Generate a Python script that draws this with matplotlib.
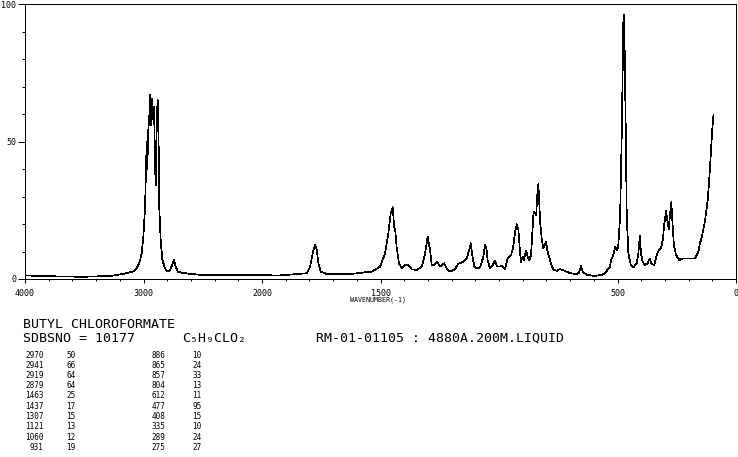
import numpy as np
import matplotlib
matplotlib.use('Agg')
import matplotlib.pyplot as plt
from matplotlib.ticker import FixedLocator, NullFormatter

# Raman spectrum of butyl chloroformate
wavenumber = [4000, 3789, 3511, 3283, 3173, 3089, 3057, 3030, 3015, 3002,
              2987, 2979, 2973, 2968, 2960, 2951, 2943, 2937, 2928, 2920,
              2911, 2903, 2897, 2889, 2880, 2872, 2867, 2855, 2841, 2819,
              2796, 2776, 2757, 2743, 2728, 2711, 2678, 2650, 2523, 2312,
              2101, 1924, 1811, 1797, 1786, 1776, 1769, 1762, 1752, 1727,
              1629, 1537, 1502, 1481, 1467, 1457, 1448, 1443, 1437, 1432,
              1422, 1410, 1396, 1383, 1368, 1347, 1326, 1312, 1301, 1291,
              1284, 1273, 1260, 1249, 1232, 1221, 1207, 1186, 1172, 1151,
              1136, 1126, 1119, 1113, 1104, 1094, 1080, 1066, 1059, 1053,
              1048, 1038, 1026, 1017, 1008, 996, 986, 975, 963, 949,
              940, 932, 925, 918, 911, 907, 900, 896, 886, 879,
              872, 865, 858, 854, 848, 843, 838, 834, 830, 826,
              820, 813, 806, 802, 796, 789, 781, 771, 756, 743,
              721, 700, 672, 662, 654, 647, 630, 595, 567, 553,
              546, 539, 532, 527, 518, 510, 503, 497, 489, 482,
              478, 475, 473, 470, 465, 461, 454, 444, 433, 419,
              412, 406, 401, 394, 384, 373, 364, 356, 345, 335,
              325, 316, 309, 302, 295, 290, 284, 278, 273, 267,
              262, 253, 239, 222, 201, 173, 159, 152, 145, 131,
              119, 110, 103, 98, 95]
intensity = [1.3, 1.0, 0.8, 1.1, 1.8, 2.7, 3.9, 6.5, 9.5, 15,
             26, 40, 50, 40, 54, 59, 67, 56, 65.7, 58,
             62.7, 42, 34, 58, 65, 48, 26, 14, 7, 3.9,
             2.7, 3.3, 5.1, 6.9, 4.5, 2.7, 2.3, 2.1, 1.5, 1.4,
             1.4, 1.3, 2.1, 4.5, 9.3, 12.6, 10.5, 5.7, 2.7, 1.8,
             1.8, 2.7, 4.5, 9.3, 16.6, 23.9, 26.1, 19.4, 17, 11.7,
             5.7, 3.9, 5.3, 5.1, 3.5, 3.3, 4.5, 9.3, 15.4, 10.5,
             5.1, 5.1, 6.3, 4.5, 5.7, 3.9, 2.7, 3.5, 5.5, 6.3,
             7.5, 10.5, 13, 8.7, 4.5, 3.9, 4.2, 8.1, 12.4, 11.2,
             6.9, 3.9, 5.1, 6.7, 4.5, 4.5, 4.8, 3.7, 7.5, 8.7,
             11.7, 17.2, 19.9, 17.8, 9.3, 6.3, 8.1, 6.9, 10.3, 8.1,
             6.9, 8.7, 19, 24.5, 23.9, 23.3, 31.2, 34.5, 27.5, 20.3,
             14.8, 11.2, 12.4, 13.6, 10.5, 8.1, 5.7, 3.5, 3.0, 3.6,
             2.9, 2.1, 1.8, 2.3, 4.7, 2.7, 1.5, 1.1, 1.5, 2.1,
             2.7, 3.9, 4.5, 6.9, 8.7, 11.7, 10.5, 11.7, 22.7, 53,
             77, 95.4, 96, 84.5, 53, 22.7, 9.3, 5.1, 4.2, 5.7,
             9.3, 15.6, 9.3, 6.3, 5.1, 5.7, 7.5, 5.5, 5.1, 8.7,
             10.5, 11.2, 14.2, 20.3, 24.8, 21.5, 18.1, 23.9, 27.9, 19,
             12.4, 8.7, 6.9, 7.5, 7.5, 7.5, 9.9, 13, 15, 21,
             29, 40, 50.5, 57, 59.6]

# peak table printed under the chart
peak_wn = [2970, 2941, 2919, 2879, 1463, 1437, 1307, 1121, 1060, 931,
           886, 865, 857, 804, 612, 477, 408, 335, 289, 275]
peak_int = [50, 66, 64, 64, 25, 17, 15, 13, 12, 19,
            10, 24, 33, 13, 11, 95, 15, 10, 24, 27]

x_major = [4000, 3000, 2000, 1500, 500, 0]
y_major = [0, 50, 100]

compound = 'BUTYL CHLOROFORMATE'
sdbs_no = 'SDBSNO = 10177'
formula = 'C\u2085H\u2089CLO\u2082'
conditions = 'RM-01-01105 : 4880A.200M.LIQUID'


# 4000-2000 is drawn at half the scale of 2000-0
def fwd(x):
    x = np.asarray(x, dtype=float)
    return np.where(x <= 2000, x, 2000 + (x - 2000) / 2)


def inv(p):
    p = np.asarray(p, dtype=float)
    return np.where(p <= 2000, p, 2000 + (p - 2000) * 2)


W, H = 738, 457
mono = 'DejaVu Sans Mono'

fig = plt.figure(figsize=(W / 100, H / 100), dpi=100)
ax = fig.add_axes([25 / W, 1 - 279 / H, 711 / W, 275 / H])

ax.set_xscale('function', functions=(fwd, inv))
ax.plot(wavenumber, intensity, color='black', lw=0.5, antialiased=False)
ax.set_xlim(4000, 0)
ax.set_ylim(0, 100)

x_minor = [v for v in range(3800, 2000, -200)] + [v for v in range(1900, 0, -100)]
x_minor = [v for v in x_minor if v not in x_major]
y_minor = [v for v in range(10, 100, 10) if v != 50]

ax.xaxis.set_major_locator(FixedLocator(x_major))
ax.xaxis.set_minor_locator(FixedLocator(x_minor))
ax.xaxis.set_minor_formatter(NullFormatter())
ax.set_xticklabels([str(v) for v in x_major])
ax.yaxis.set_major_locator(FixedLocator(y_major))
ax.yaxis.set_minor_locator(FixedLocator(y_minor))
ax.yaxis.set_minor_formatter(NullFormatter())
ax.set_yticklabels([str(v) for v in y_major])

ax.tick_params(axis='x', which='major', length=3, width=0.72, pad=4,
               labelsize=6, direction='out')
ax.tick_params(axis='x', which='minor', length=1.7, width=0.72, direction='out')
ax.tick_params(axis='y', which='major', length=5.4, width=0.72, pad=1,
               labelsize=6, direction='out')
ax.tick_params(axis='y', which='minor', length=2, width=0.72, direction='out')
for lab in ax.get_xticklabels() + ax.get_yticklabels():
    lab.set_family(mono)
for sp in ax.spines.values():
    sp.set_linewidth(0.72)

fig.text(378 / W, 1 - 299.5 / H, 'WAVENUMBER(-1)', fontsize=4.8, family=mono,
         ha='center', va='center')

# header text
fig.text(23 / W, 1 - 324.5 / H, compound, fontsize=9.5, family=mono, va='center')
fig.text(23 / W, 1 - 338 / H, sdbs_no, fontsize=9.5, family=mono, va='center')
fig.text(182 / W, 1 - 338 / H, formula, fontsize=9.5, family=mono, va='center')
fig.text(316 / W, 1 - 338 / H, conditions, fontsize=9.5, family=mono, va='center')

# peak table, two blocks of ten rows
for i in range(10):
    y = 1 - (355 + i * 10.25) / H
    fig.text(43.5 / W, y, str(peak_wn[i]), fontsize=5.5, family=mono, ha='right', va='center')
    fig.text(66.5 / W, y, str(peak_int[i]), fontsize=5.5, family=mono, ha='left', va='center')
    fig.text(165 / W, y, str(peak_wn[i + 10]), fontsize=5.5, family=mono, ha='right', va='center')
    fig.text(192.5 / W, y, str(peak_int[i + 10]), fontsize=5.5, family=mono, ha='left', va='center')

fig.savefig('out.png', dpi=100)
